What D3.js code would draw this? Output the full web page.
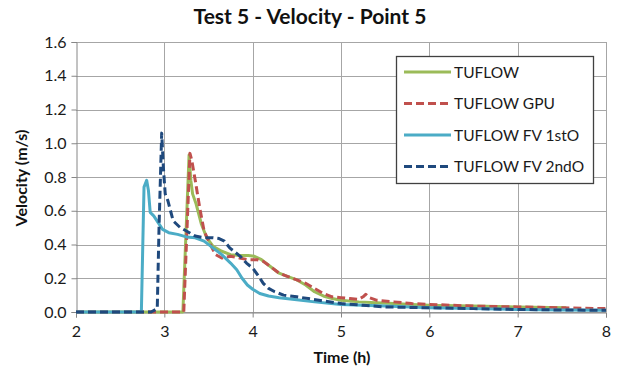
<!DOCTYPE html>
<html><head><meta charset="utf-8">
<script src="https://cdn.jsdelivr.net/npm/d3@7"></script>
<style>body{margin:0;background:#fff}svg{display:block}</style>
</head><body>
<svg id="c" width="631" height="370"></svg>
<script>
const xTicks = [2,3,4,5,6,7,8];
const yTicks = [0,0.2,0.4,0.6,0.8,1.0,1.2,1.4,1.6];
const seriesNames = ["TUFLOW","TUFLOW GPU","TUFLOW FV 1stO","TUFLOW FV 2ndO"];

const tuflowT = [2,3.21,3.28,3.30,3.32,3.36,3.42,3.48,3.55,3.65,3.75,3.85,3.95,4.02,4.1,4.2,4.3,4.4,4.5,4.6,4.7,4.8,4.9,5.0,5.2,5.4,5.6,5.8,6.0,6.5,7.0,7.55];
const tuflowV = [0,0,0.93,0.78,0.70,0.64,0.52,0.44,0.39,0.36,0.34,0.335,0.335,0.33,0.31,0.27,0.23,0.21,0.19,0.16,0.12,0.095,0.08,0.07,0.06,0.055,0.05,0.045,0.04,0.035,0.03,0.025];

const gpuT = [2,3.22,3.29,3.31,3.35,3.40,3.45,3.52,3.58,3.65,3.75,3.85,3.95,4.05,4.12,4.2,4.3,4.4,4.5,4.6,4.7,4.8,4.9,5.0,5.1,5.2,5.25,5.28,5.32,5.4,5.6,5.8,6.0,6.5,7.0,7.5,8.0];
const gpuV = [0,0,0.94,0.90,0.78,0.62,0.48,0.40,0.34,0.32,0.33,0.32,0.31,0.31,0.30,0.27,0.23,0.21,0.19,0.17,0.14,0.11,0.09,0.085,0.08,0.075,0.09,0.105,0.085,0.07,0.06,0.05,0.045,0.035,0.03,0.025,0.02];

const fv1T = [2,2.74,2.77,2.80,2.82,2.84,2.88,2.93,2.98,3.05,3.15,3.25,3.35,3.45,3.55,3.65,3.75,3.82,3.88,3.94,4.0,4.08,4.18,4.3,4.5,4.7,5.0,5.5,6.0,6.5,7.0,7.5,8.0];
const fv1V = [0,0,0.74,0.78,0.72,0.59,0.57,0.53,0.49,0.47,0.46,0.445,0.44,0.42,0.38,0.34,0.29,0.25,0.2,0.16,0.135,0.11,0.095,0.085,0.072,0.06,0.045,0.035,0.025,0.02,0.015,0.012,0.01];

const fv2T = [2,2.85,2.92,2.94,2.97,2.99,3.01,3.04,3.10,3.18,3.25,3.35,3.45,3.55,3.62,3.68,3.74,3.80,3.86,3.93,4.0,4.07,4.12,4.18,4.25,4.35,4.5,4.75,5.0,5.25,5.5,6.0,6.5,7.0,7.5,8.0];
const fv2V = [0,0,0.02,0.5,1.06,0.85,0.70,0.66,0.54,0.50,0.48,0.45,0.44,0.44,0.435,0.42,0.38,0.355,0.33,0.29,0.26,0.21,0.17,0.14,0.12,0.10,0.09,0.07,0.05,0.04,0.03,0.025,0.02,0.015,0.012,0.01];

const series = [
  {name: seriesNames[0], t: tuflowT, v: tuflowV, color: "#9bbb59", dash: null},
  {name: seriesNames[1], t: gpuT, v: gpuV, color: "#c0504d", dash: "8,4"},
  {name: seriesNames[2], t: fv1T, v: fv1V, color: "#4bacc6", dash: null},
  {name: seriesNames[3], t: fv2T, v: fv2V, color: "#1f497d", dash: "8,4"}
];

const svg = d3.select("#c");
const font = "Lato, 'Open Sans', sans-serif";
const x = d3.scaleLinear().domain([2,8]).range([76,606]);
const y = d3.scaleLinear().domain([0,1.6]).range([312,42]);

// grid
svg.append("g").selectAll("line.h").data(yTicks).join("line")
  .attr("x1", x(2)).attr("x2", x(8)).attr("y1", d=>Math.round(y(d))+0.5).attr("y2", d=>Math.round(y(d))+0.5)
  .attr("stroke", "#a6a6a6").attr("stroke-width", 1);
svg.append("g").selectAll("line.v").data(xTicks.slice(1)).join("line")
  .attr("x1", d=>Math.round(x(d))+0.5).attr("x2", d=>Math.round(x(d))+0.5).attr("y1", y(1.6)).attr("y2", y(0))
  .attr("stroke", "#a6a6a6").attr("stroke-width", 1);

// axes
const yAxis = svg.append("g").attr("transform", `translate(${Math.round(x(2))+0.5},0)`)
  .call(d3.axisLeft(y).tickValues(yTicks).tickFormat(d3.format(".1f")).tickSize(5).tickPadding(5));
const xAxis = svg.append("g").attr("transform", `translate(0,${Math.round(y(0))+0.5})`)
  .call(d3.axisBottom(x).tickValues(xTicks).tickFormat(d3.format("d")).tickSize(5).tickPadding(8));
[yAxis, xAxis].forEach(a => {
  a.select(".domain").attr("stroke", "#868686");
  a.selectAll(".tick line").attr("stroke", "#868686");
  a.selectAll("text").attr("font-family", font).attr("font-size", 16).attr("fill", "#1a1a1a");
});

// lines
const line = d3.line().x(d=>x(d[0])).y(d=>y(d[1]));
series.forEach(s => {
  const pts = s.t.map((t,i)=>[t, s.v[i]]);
  svg.append("path").datum(pts).attr("d", line)
    .attr("fill","none").attr("stroke", s.color).attr("stroke-width", 3)
    .attr("stroke-linejoin","round")
    .attr("stroke-dasharray", s.dash);
});

// title & labels
svg.append("text").attr("x", 310).attr("y", 24).attr("text-anchor","middle")
  .attr("font-family", font).attr("font-weight","bold").attr("font-size", 21).attr("fill","#111")
  .text("Test 5 - Velocity - Point 5");
svg.append("text").attr("x", 342).attr("y", 363).attr("text-anchor","middle")
  .attr("font-family", font).attr("font-weight","bold").attr("font-size", 16).attr("fill","#111")
  .text("Time (h)");
svg.append("text").attr("transform","translate(27,178) rotate(-90)").attr("text-anchor","middle")
  .attr("font-family", font).attr("font-weight","bold").attr("font-size", 16).attr("fill","#111")
  .text("Velocity (m/s)");

// legend
const lg = svg.append("g");
lg.append("rect").attr("x",396.5).attr("y",56.5).attr("width",197).attr("height",127)
  .attr("fill","#fff").attr("stroke","#404040").attr("stroke-width",1.3);
series.forEach((s,i) => {
  const yy = 72 + i*31.5;
  lg.append("line").attr("x1",404).attr("x2",451).attr("y1",yy).attr("y2",yy)
    .attr("stroke", s.color).attr("stroke-width",3).attr("stroke-dasharray", s.dash);
  lg.append("text").attr("x",454).attr("y",yy+5.5)
    .attr("font-family", font).attr("font-size", 15.5).attr("fill","#1a1a1a").text(s.name);
});
</script>
</body></html>
